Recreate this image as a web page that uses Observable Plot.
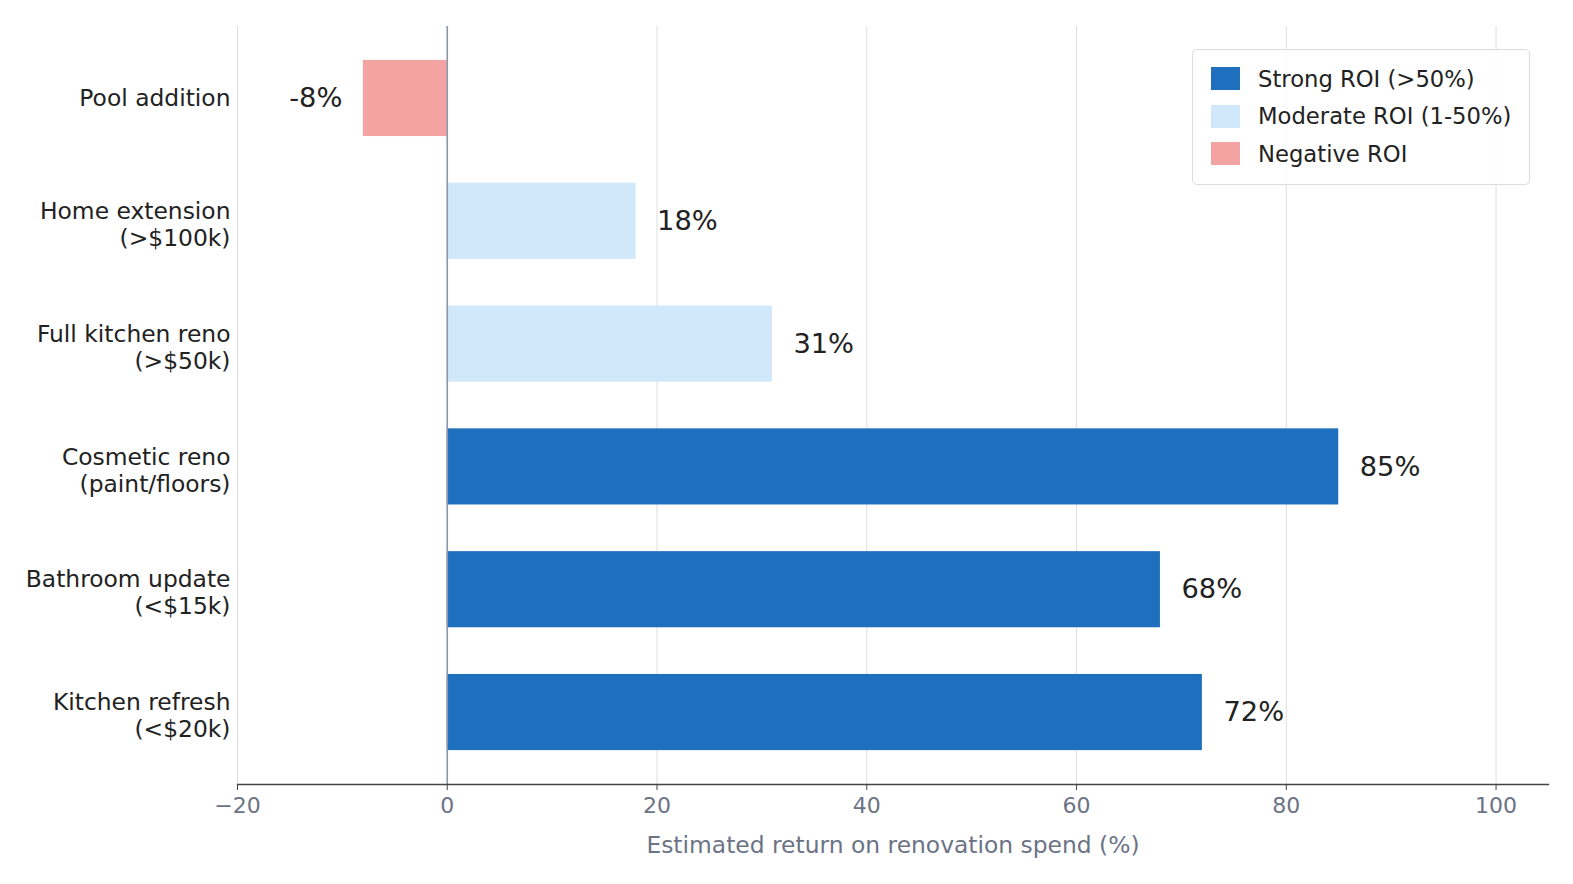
<!DOCTYPE html>
<html>
<head>
<meta charset="utf-8">
<script src="https://cdn.jsdelivr.net/npm/d3@7"></script>
<script src="https://cdn.jsdelivr.net/npm/@observablehq/plot@0.6"></script>
<style>
  html, body { margin: 0; padding: 0; background: #fff; }
  #wrap { position: relative; width: 1573px; height: 884px; font-family: "DejaVu Sans", sans-serif; }
  #legend { position: absolute; left: 1192px; top: 49px; width: 338px; height: 136px; box-sizing: border-box;
            border: 1.5px solid #dcdcdc; border-radius: 5px; background: rgba(255,255,255,0.85); padding: 10px 0 0 18px; }
  .row { height: 37.5px; display: flex; align-items: center; font-size: 22.7px; color: #222; }
  .sw { width: 29px; height: 23px; margin-right: 18px; flex: none; }
</style>
</head>
<body>
<div id="wrap"><div id="chart"></div><div id="legend"></div></div>
<script>
const categories = [
  "Pool addition",
  "Home extension\n(>$100k)",
  "Full kitchen reno\n(>$50k)",
  "Cosmetic reno\n(paint/floors)",
  "Bathroom update\n(<$15k)",
  "Kitchen refresh\n(<$20k)"
];
const values = [-8, 18, 31, 85, 68, 72];
const tiers = ["Negative ROI", "Moderate ROI (1-50%)", "Moderate ROI (1-50%)", "Strong ROI (>50%)", "Strong ROI (>50%)", "Strong ROI (>50%)"];
const tierNames = ["Strong ROI (>50%)", "Moderate ROI (1-50%)", "Negative ROI"];
const tierColors = ["#1f6fbf", "#d1e7fa", "#f4a3a3"];
const xTicks = [-20, 0, 20, 40, 60, 80, 100];
const xLabel = "Estimated return on renovation spend (%)";

const data = categories.map((c, i) => ({cat: c, value: values[i], tier: tiers[i]}));

const chart = Plot.plot({
  width: 1573,
  height: 884,
  marginLeft: 237,
  marginRight: 25,
  marginTop: 26,
  marginBottom: 100,
  style: {fontFamily: "DejaVu Sans, sans-serif", fontSize: "22px", background: "transparent"},
  x: {domain: [-20, 105], ticks: xTicks},
  y: {domain: categories, paddingInner: 0.38, paddingOuter: 0.276, round: false},
  color: {domain: tierNames, range: tierColors},
  marks: [
    Plot.gridX(xTicks, {stroke: "#dedede", strokeOpacity: 1, strokeWidth: 1}),
    Plot.barX(data, {x: "value", y: "cat", fill: "tier"}),
    Plot.ruleX([0], {stroke: "#8e97a8", strokeWidth: 1.6}),
    Plot.frame({anchor: "bottom", stroke: "#444", strokeWidth: 1.3}),
    Plot.text(data.filter(d => d.value >= 0), {x: "value", y: "cat", text: d => d.value + "%", textAnchor: "start", dx: 21, fontSize: 27.3, fill: "#222"}),
    Plot.text(data.filter(d => d.value < 0), {x: "value", y: "cat", text: d => d.value + "%", textAnchor: "end", dx: -21, fontSize: 27.3, fill: "#222"}),
    Plot.axisY(categories.filter(c => !c.includes("\n")), {tickSize: 0, tickPadding: 7, fontSize: 23.4, fill: "#222", label: null}),
    Plot.axisY(categories.filter(c => c.includes("\n")), {tickSize: 0, tickPadding: 7, fontSize: 23.4, fill: "#222", label: null, lineHeight: 1.16, dy: 2.5}),
    Plot.axisX(xTicks, {tickSize: 6, tickPadding: 7, fontSize: 22, fill: "#6b7385", stroke: "#444",
      tickFormat: d => d < 0 ? "\u2212" + Math.abs(d) : String(d),
      label: null}),
    Plot.axisX({tickSize: 0, ticks: [], label: xLabel, labelAnchor: "center", labelArrow: "none",
      labelOffset: 68, fontSize: 23.4, fill: "#6b7385"})
  ]
});
document.getElementById("chart").appendChild(chart);

const legend = document.getElementById("legend");
tierNames.forEach((n, i) => {
  const row = document.createElement("div");
  row.className = "row";
  const sw = document.createElement("div");
  sw.className = "sw";
  sw.style.background = tierColors[i];
  const t = document.createElement("span");
  t.textContent = n;
  row.appendChild(sw);
  row.appendChild(t);
  legend.appendChild(row);
});
</script>
</body>
</html>
